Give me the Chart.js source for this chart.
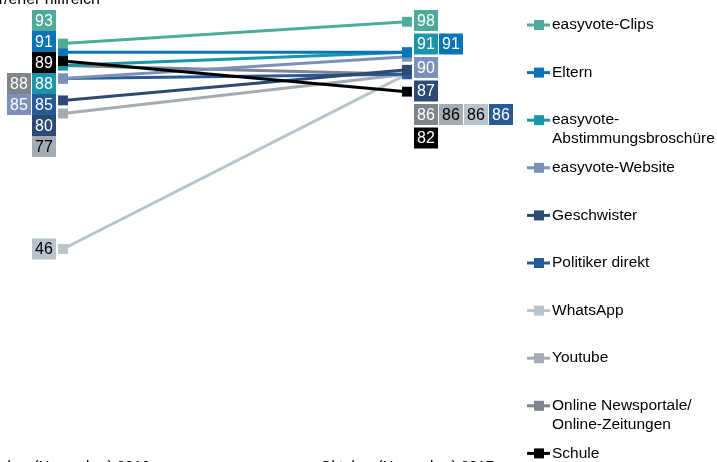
<!DOCTYPE html>
<html>
<head>
<meta charset="utf-8">
<script src="https://cdn.jsdelivr.net/npm/chart.js@4"></script>
<style>
  html, body { margin: 0; padding: 0; background: #fff; overflow: hidden; }
  #chart { display: block; }
</style>
</head>
<body>
<canvas id="chart" width="717" height="462"></canvas>
<script>
// --- data ---
const periods = ['Oktober (November) 2016', 'Oktober (November) 2017'];
const seriesNames = [
  'easyvote-Clips', 'Eltern', 'easyvote-Abstimmungsbroschüre', 'easyvote-Website',
  'Geschwister', 'Politiker direkt', 'WhatsApp', 'Youtube',
  'Online Newsportale/Online-Zeitungen', 'Schule'
];
const values2016 = [93, 91, 88, 85, 80, 85, 46, 77, 88, 89];
const values2017 = [98, 91, 91, 90, 87, 86, 86, 86, 86, 82];
const legendLines = [
  ['easyvote-Clips'], ['Eltern'], ['easyvote-', 'Abstimmungsbroschüre'], ['easyvote-Website'],
  ['Geschwister'], ['Politiker direkt'], ['WhatsApp'], ['Youtube'],
  ['Online Newsportale/', 'Online-Zeitungen'], ['Schule']
];
// order in which value boxes of the same row are placed (inner to outer)
const boxOrderLeft = [2, 8, 5, 3, 0, 1, 4, 6, 7, 9];
const boxOrderRight = [2, 1, 8, 7, 6, 5, 0, 3, 4, 9];
const titleText = 'Anteil sehr/eher hilfreich';

// --- styles ---
const seriesColors = [
  '#4eab9a', '#0b74b6', '#1a95a9', '#7c91b9', '#2c4a73',
  '#285a96', '#b9c3ca', '#a4acb1', '#7e868c', '#000000'
];
const FONT = '"Liberation Sans", Arial, sans-serif';
const BOX_W = 24, BOX_H = 21, BOX_GAP = 1, BOX_OFFSET = 7;
const PITCH_LEFT = 21, PITCH_RIGHT = 23.5;

function textColorFor(hex) {
  const r = parseInt(hex.substr(1, 2), 16), g = parseInt(hex.substr(3, 2), 16), b = parseInt(hex.substr(5, 2), 16);
  return (0.299 * r + 0.587 * g + 0.114 * b) > 165 ? '#000' : '#fff';
}

// groups values into rows and spreads overlapping rows apart (clusters centred on their points)
function layoutRows(values, yScale, order, minTop, pitch) {
  const byValue = {};
  values.forEach((v, i) => { (byValue[v] = byValue[v] || []).push(i); });
  const rows = Object.keys(byValue).map(Number).sort((a, b) => b - a).map(v => ({
    value: v,
    ideal: yScale.getPixelForValue(v),
    items: byValue[v].sort((a, b) => order.indexOf(a) - order.indexOf(b))
  }));
  let clusters = rows.map(r => ({ rows: [r], sum: r.ideal }));
  let changed = true;
  while (changed) {
    changed = false;
    clusters.forEach(c => {
      c.top = c.sum / c.rows.length - c.rows.length * pitch / 2;
      if (c.top < minTop) c.top = minTop;
    });
    for (let i = 0; i < clusters.length - 1; i++) {
      const a = clusters[i], b = clusters[i + 1];
      if (a.top + a.rows.length * pitch > b.top) {
        a.rows = a.rows.concat(b.rows);
        a.sum += b.sum;
        clusters.splice(i + 1, 1);
        changed = true;
        break;
      }
    }
  }
  clusters.forEach(c => c.rows.forEach((r, k) => { r.top = c.top + k * pitch; }));
  return rows;
}

const slopeDecor = {
  id: 'slopeDecor',
  afterDatasetsDraw(chart) {
    const ctx = chart.ctx;
    const x = chart.scales.x, y = chart.scales.y;
    const area = chart.chartArea;
    ctx.save();
    ctx.font = '16px ' + FONT;
    ctx.textAlign = 'center';
    ctx.textBaseline = 'middle';
    [[values2016, boxOrderLeft, -1, PITCH_LEFT], [values2017, boxOrderRight, 1, PITCH_RIGHT]].forEach(([vals, order, dir, pitch], p) => {
      const px = x.getPixelForValue(p);
      const rows = layoutRows(vals, y, order, area.top - 3, pitch);
      rows.forEach(r => {
        r.items.forEach((idx, k) => {
          const bx = dir > 0
            ? px + BOX_OFFSET + k * (BOX_W + BOX_GAP)
            : px - BOX_OFFSET - BOX_W - k * (BOX_W + BOX_GAP);
          ctx.fillStyle = seriesColors[idx];
          ctx.fillRect(bx, r.top, BOX_W, BOX_H);
          ctx.fillStyle = textColorFor(seriesColors[idx]);
          ctx.fillText(String(r.value), bx + BOX_W / 2, r.top + BOX_H / 2 + 1);
        });
      });
    });
    ctx.restore();
  },
  afterDraw(chart) {
    const ctx = chart.ctx;
    const x = chart.scales.x;
    ctx.save();
    // period labels (cut off by the canvas bottom as in the original)
    ctx.font = '15px ' + FONT;
    ctx.fillStyle = '#000';
    ctx.textAlign = 'center';
    ctx.textBaseline = 'top';
    periods.forEach((label, i) => ctx.fillText(label, x.getPixelForValue(i), 459));
    // title (cut off at top)
    ctx.font = '16px ' + FONT;
    ctx.textAlign = 'right';
    ctx.textBaseline = 'alphabetic';
    ctx.fillText(titleText, 100, 4);
    // legend
    ctx.font = '15.5px ' + FONT;
    ctx.textAlign = 'left';
    ctx.textBaseline = 'middle';
    legendLines.forEach((lines, i) => {
      const ly = 25 + i * 47.6;
      ctx.strokeStyle = seriesColors[i];
      ctx.lineWidth = 3;
      ctx.beginPath();
      ctx.moveTo(527, ly);
      ctx.lineTo(550, ly);
      ctx.stroke();
      ctx.fillStyle = seriesColors[i];
      ctx.fillRect(534, ly - 5, 10, 10);
      ctx.fillStyle = '#000';
      lines.forEach((t, k) => ctx.fillText(t, 552, ly + k * 19));
    });
    ctx.restore();
  }
};

const datasets = seriesNames.map((name, i) => ({
  label: name,
  data: [values2016[i], values2017[i]],
  borderColor: seriesColors[i],
  backgroundColor: seriesColors[i],
  borderWidth: 3,
  pointStyle: 'rect',
  pointRadius: 7,
  pointHoverRadius: 7,
  pointBorderWidth: 0,
  pointBackgroundColor: seriesColors[i],
  order: name === 'Schule' ? -1 : i,
  clip: false,
  fill: false,
  tension: 0
}));

new Chart(document.getElementById('chart'), {
  type: 'line',
  data: { labels: periods, datasets: datasets },
  options: {
    responsive: false,
    animation: false,
    layout: { padding: { left: 63, right: 310, top: 13, bottom: 12 } },
    scales: {
      x: { type: 'category', offset: false, display: false },
      y: { min: 0, max: 100, display: false }
    },
    plugins: {
      legend: { display: false },
      tooltip: { enabled: false }
    }
  },
  plugins: [slopeDecor]
});
</script>
</body>
</html>
